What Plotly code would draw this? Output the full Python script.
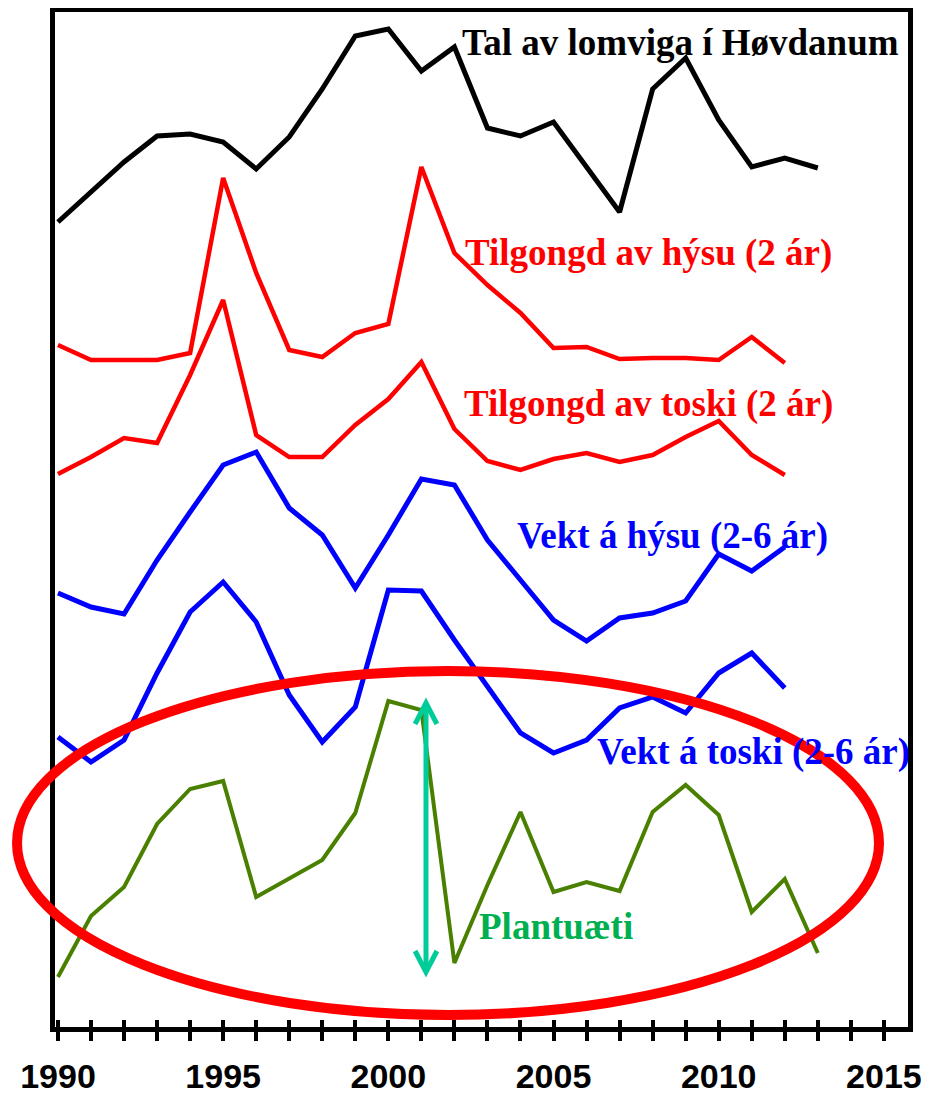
import plotly.graph_objects as go

# years
years_24 = list(range(1990, 2014))   # 1990-2013
years_23 = list(range(1990, 2013))   # 1990-2012

# relative values (no y scale on the original chart)
lomvigi = [80.5, 83.5, 86.5, 89.1, 89.3, 88.5, 85.8, 89.0, 93.8, 99.1, 99.8, 95.6,
           98.0, 89.9, 89.1, 90.5, 86.0, 81.5, 93.8, 96.9, 90.7, 86.0, 86.9, 85.9]
tilgongd_hysu = [68.2, 66.7, 66.7, 66.7, 67.4, 84.9, 75.4, 67.7, 67.0, 69.4, 70.3, 86.0,
                 77.4, 74.2, 71.4, 67.9, 68.0, 66.8, 66.9, 66.9, 66.7, 69.0, 66.4]
tilgongd_toski = [55.3, 57.0, 58.9, 58.4, 65.2, 72.7, 59.2, 57.0, 57.0, 60.2, 62.8, 66.5,
                  59.8, 56.6, 55.7, 56.8, 57.4, 56.5, 57.2, 59.0, 60.6, 57.2, 55.2]
vekt_hysu = [43.4, 42.0, 41.3, 46.7, 51.5, 56.2, 57.5, 51.9, 49.2, 43.9, 49.2, 54.8,
             54.2, 48.7, 44.7, 40.7, 38.6, 40.9, 41.4, 42.6, 47.3, 45.6, 48.0]
vekt_toski = [29.0, 26.5, 28.7, 35.4, 41.5, 44.5, 40.5, 33.2, 28.5, 32.0, 43.7, 43.6,
              38.7, 34.0, 29.4, 27.4, 28.7, 31.9, 33.0, 31.4, 35.4, 37.4, 33.9]
plantuaeti = [5.0, 11.1, 14.0, 20.3, 23.8, 24.6, 13.0, 14.8, 16.7, 21.4, 32.6, 31.7,
              6.4, 14.2, 21.5, 13.5, 14.5, 13.6, 21.5, 24.2, 21.2, 11.5, 14.8, 7.4]

tick_years = list(range(1990, 2016))
label_years = [1990, 1995, 2000, 2005, 2010, 2015]

fig = go.Figure()

series = [
    (years_24, lomvigi, "black", 5),
    (years_23, tilgongd_hysu, "#FF0000", 4.5),
    (years_23, tilgongd_toski, "#FF0000", 4.5),
    (years_23, vekt_hysu, "#0000FF", 5),
    (years_23, vekt_toski, "#0000FF", 5),
    (years_24, plantuaeti, "#4A8000", 4),
]
for xs, ys, col, w in series:
    fig.add_trace(go.Scatter(x=xs, y=ys, mode="lines",
                             line=dict(color=col, width=w), showlegend=False))

# dummy trace to activate the overlay axis carrying the inside ticks
fig.add_trace(go.Scatter(x=[1990], y=[0], xaxis="x2", mode="markers",
                         marker=dict(opacity=0), showlegend=False, hoverinfo="skip"))

labels = [
    ("Tal av lomviga í Høvdanum", 2002.17, 98.5, "black"),
    ("Tilgongd av hýsu (2 ár)", 2002.26, 77.4, "#FF0000"),
    ("Tilgongd av toski (2 ár)", 2002.23, 62.3, "#FF0000"),
    ("Vekt á hýsu (2-6 ár)", 2003.83, 49.1, "#0000FF"),
    ("Vekt á toski (2-6 ár)", 2006.25, 27.5, "#0000FF"),
    ("Plantuæti", 2002.68, 10.1, "#00B050"),
]
for txt, x, y, col in labels:
    fig.add_annotation(x=x, y=y, text=txt, showarrow=False, xanchor="left", yanchor="middle",
                       font=dict(family="Liberation Serif, Times New Roman, serif",
                                 size=37, color=col, weight="bold"))

# double-headed arrow
ax, y_top, y_bot, dx, dy = 2001.14, 32.4, 5.5, 0.33, 2.1
arrow_col = "#00CC99"
fig.add_shape(type="line", x0=ax, x1=ax, y0=y_bot, y1=y_top, xref="x", yref="y",
              line=dict(color=arrow_col, width=5))
fig.add_shape(type="path", xref="x", yref="y",
              path=f"M {ax-dx},{y_top-dy} L {ax},{y_top} L {ax+dx},{y_top-dy}",
              line=dict(color=arrow_col, width=5))
fig.add_shape(type="path", xref="x", yref="y",
              path=f"M {ax-dx},{y_bot+dy} L {ax},{y_bot} L {ax+dx},{y_bot+dy}",
              line=dict(color=arrow_col, width=5))

# red ellipse
fig.add_shape(type="circle", xref="paper", yref="paper",
              x0=-0.0445, x1=0.966, y0=0.0118, y1=0.3507,
              line=dict(color="#FF0000", width=10), layer="above")

# page body adds an 8px offset, so the figure is drawn 8px smaller
fig.update_layout(
    width=932, height=1087,
    margin=dict(l=47, r=32, t=4, b=68, autoexpand=False),
    paper_bgcolor="white", plot_bgcolor="white",
    xaxis=dict(range=[1989.91, 2015.73], tickmode="array", tickvals=tick_years,
               ticktext=[str(y) if y in label_years else "" for y in tick_years],
               ticks="outside", ticklen=9, tickwidth=4, tickcolor="black",
               ticklabelstandoff=6,
               tickfont=dict(family="Liberation Sans, Arial, sans-serif",
                             size=34, color="black", weight="bold"),
               showline=True, linecolor="black", linewidth=5, mirror=True,
               showgrid=False, zeroline=False),
    xaxis2=dict(overlaying="x", matches="x", anchor="y", side="bottom",
                tickmode="array", tickvals=tick_years, showticklabels=False,
                ticks="inside", ticklen=7, tickwidth=4, tickcolor="black",
                showline=False, showgrid=False, zeroline=False),
    yaxis=dict(range=[0, 101.5], showticklabels=False, ticks="",
               showline=True, linecolor="black", linewidth=5, mirror=True,
               showgrid=False, zeroline=False),
)

fig.write_html("out.html")
